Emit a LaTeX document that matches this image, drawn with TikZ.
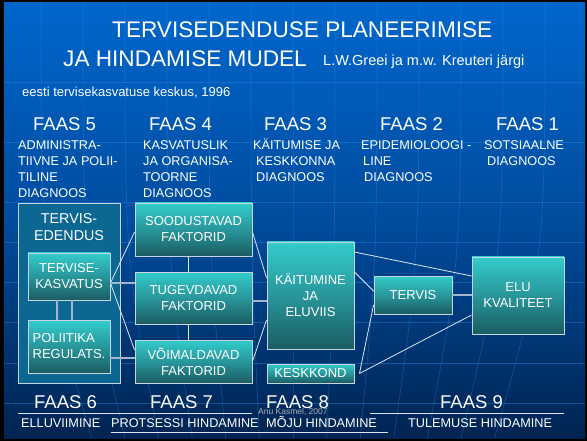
\documentclass[tikz,border=0pt]{standalone}
\usepackage{fontspec}
\setmainfont{Liberation Sans}
\usetikzlibrary{calc}
\definecolor{bgtop}{RGB}{0,102,204}
\definecolor{bgmid}{RGB}{0,76,158}
\definecolor{bgbot}{RGB}{0,36,82}
\definecolor{gridc}{RGB}{40,140,235}
\definecolor{boxtop}{RGB}{51,204,204}
\definecolor{boxmid}{RGB}{40,150,155}
\definecolor{boxbot}{RGB}{26,92,98}
\definecolor{outerc}{RGB}{12,104,146}
\definecolor{edgec}{RGB}{200,212,220}
\definecolor{linec}{RGB}{222,230,240}
\definecolor{linegray}{RGB}{160,182,202}
\definecolor{creditc}{RGB}{175,175,175}
\begin{document}
\begin{tikzpicture}[x=1pt,y=-1pt,
  gridl/.style={draw=gridc,line width=0.6pt,opacity=0.4},
  tbox/.style={draw=edgec,line width=0.9pt,top color=boxtop,bottom color=boxbot,middle color=boxmid,
    text=white,align=center,inner sep=0pt,font=\fontsize{13}{16}\selectfont},
  outerb/.style={draw=edgec,line width=0.9pt,fill=outerc,inner sep=0pt},
  wtxt/.style={text=white,inner sep=0pt},
  hdr/.style={wtxt,font=\fontsize{22.6}{26}\selectfont},
  faas/.style={wtxt,font=\fontsize{18.5}{22}\selectfont},
  desc/.style={wtxt,align=left,font=\fontsize{12.7}{16}\selectfont},
  blab/.style={wtxt,font=\fontsize{12.7}{16}\selectfont},
  conn/.style={draw=linec,line width=0.8pt},
  connb/.style={draw=linegray,line width=1.5pt},
  uline/.style={draw=linec,line width=0.9pt}]
\useasboundingbox (0,0) rectangle (587,441);
% background
\fill[black] (0,0) rectangle (587,441);
\shade[top color=bgtop,bottom color=bgbot,middle color=bgmid] (4,3) rectangle (585,438);
\foreach \gy in {82,142,202,242,282,322,363,403}
  \draw[gridl] (4,\gy) -- (585,\gy);
\foreach \gx in {41,83,...,545}{
  \pgfmathsetmacro\bx{\gx+(293-\gx)*0.2}
  \draw[gridl] (\gx,3) .. controls (\gx,260) .. (\bx,438);
}
% titles
\node[hdr,anchor=base west] (t1) at (112,38) {TERVISEDENDUSE PLANEERIMISE};
\node[hdr,anchor=base west] (t2) at (63,67) {JA HINDAMISE MUDEL};
\node[wtxt,anchor=base west,font=\fontsize{14.5}{17}\selectfont] (t3) at (323,66) {L.W.Greei ja m.w. Kreuteri järgi};
\node[wtxt,anchor=base west,font=\fontsize{13}{16}\selectfont] (t4) at (22,97) {eesti tervisekasvatuse keskus, 1996};
% phase headers
\node[faas,anchor=base west] (f5) at (33,131) {FAAS 5};
\node[faas,anchor=base west] (f4) at (149,131) {FAAS 4};
\node[faas,anchor=base west] (f3) at (264,131) {FAAS 3};
\node[faas,anchor=base west] (f2) at (380,131) {FAAS 2};
\node[faas,anchor=base west] (f1) at (496,131) {FAAS 1};
\node[desc,anchor=south west] (d5) at (18,197.5) {ADMINISTRA-\\TIIVNE JA POLII-\\TILINE\\DIAGNOOS};
\node[desc,anchor=south west] (d4) at (143,197.5) {KASVATUSLIK\\JA ORGANISA-\\TOORNE\\DIAGNOOS};
\node[desc,anchor=south west] (d3) at (253,181.5) {KÄITUMISE JA\\\hspace*{3pt}KESKKONNA\\\hspace*{3pt}DIAGNOOS};
\node[desc,anchor=south west] (d2) at (361,181.5) {EPIDEMIOLOOGI -\\\hspace*{2pt}LINE\\\hspace*{3pt}DIAGNOOS};
\node[desc,anchor=south west] (d1) at (484,165.5) {SOTSIAALNE\\\hspace*{3pt}DIAGNOOS};
% boxes
\node[outerb,minimum width=102pt,minimum height=180pt] (ted) at (69,293) {};
\node[wtxt,align=center,font=\fontsize{14.3}{17}\selectfont] (tedtxt) at (69,227.5) {TERVIS-\\EDENDUS};
\node[tbox,minimum width=82pt,minimum height=47pt] (tk) at (69,276.5) {TERVISE-\\KASVATUS};
\node[tbox,minimum width=82pt,minimum height=53pt,align=left] (pol) at (69,346.5) {POLIITIKA\\REGULATS.};
\node[tbox,minimum width=117pt,minimum height=53pt] (soo) at (193.5,229.5) {SOODUSTAVAD\\FAKTORID};
\node[tbox,minimum width=117pt,minimum height=52pt] (tug) at (193.5,298) {TUGEVDAVAD\\FAKTORID};
\node[tbox,minimum width=117pt,minimum height=43pt] (voi) at (193.5,361.5) {VÕIMALDAVAD\\FAKTORID};
\node[tbox,minimum width=87pt,minimum height=107pt] (kai) at (310.5,295.5) {KÄITUMINE\\JA\\ELUVIIS};
\node[tbox,minimum width=87pt,minimum height=19pt] (kesk) at (310.5,373.5) {KESKKOND};
\node[tbox,minimum width=78pt,minimum height=38pt] (ter) at (413,295) {TERVIS};
\node[tbox,minimum width=92pt,minimum height=77pt] (elu) at (518,295.5) {ELU\\KVALITEET};
% connectors
\coordinate (tkp) at ([yshift=-6.5pt]tk.east);
\draw[conn] (tkp) -- ([yshift=-2.5pt]soo.west);
\draw[conn] (tkp) -- ([yshift=11.5pt]voi.west);
\draw[connb] (tkp) -- (tkp -| tug.west);
\coordinate (pe) at ([yshift=-11.5pt]pol.east);
\draw[connb] (pe) -- (pe -| voi.west);
\draw[connb] ([xshift=-12pt]tk.south) -- ([xshift=-12pt]pol.north);
\draw[connb] ([xshift=3pt]tk.south) -- ([xshift=3pt]pol.north);
\draw[conn] ([xshift=-5pt]soo.south) -- ([xshift=-5pt]tug.north);
\draw[conn] ([xshift=-5pt]tug.south) -- ([xshift=-5pt]voi.north);
\draw[conn] ([yshift=-2.5pt]soo.east) -- ([yshift=17.5pt]kai.west);
\coordinate (te) at ([yshift=-3pt]tug.east);
\draw[connb] (te) -- (te -| kai.west);
\draw[conn] (voi.east) -- ([yshift=-24.5pt]kai.west);
\draw[conn] ([yshift=43.5pt]kai.east) -- ([yshift=19.5pt]elu.west);
\draw[conn] ([yshift=23.5pt]kai.east) -- ([yshift=4pt]ter.west);
\coordinate (kp) at ([xshift=5pt]kesk.east);
\draw[conn] (kp) -- ([yshift=-10pt]ter.west);
\draw[conn] (kp) -- ([yshift=-19.5pt]elu.west);
\draw[connb] (ter.east) -- (ter.east -| elu.west);
% bottom phases
\node[faas,anchor=base west] (f6) at (34,408) {FAAS 6};
\node[faas,anchor=base west] (f7) at (150,408) {FAAS 7};
\node[faas,anchor=base west] (f8) at (266,408) {FAAS 8};
\node[faas,anchor=base west] (f9) at (440,408) {FAAS 9};
\node[inner sep=0pt,anchor=base west,text=creditc,font=\fontsize{8.5}{10}\selectfont] (cr) at (258,414) {Anu Kasmel, 2007};
\draw[uline] (18,413) -- (252,413);
\draw[uline] (370,413) -- (564,413);
\draw[uline] (111,432) -- (388,432);
\node[blab,anchor=base west] (b6) at (21,427) {ELLUVIIMINE};
\node[blab,anchor=base west] (b7) at (111,427) {PROTSESSI HINDAMINE};
\node[blab,anchor=base west] (b8) at (266,427) {MÕJU HINDAMINE};
\node[blab,anchor=base west] (b9) at (408,427) {TULEMUSE HINDAMINE};
\end{tikzpicture}
\end{document}
